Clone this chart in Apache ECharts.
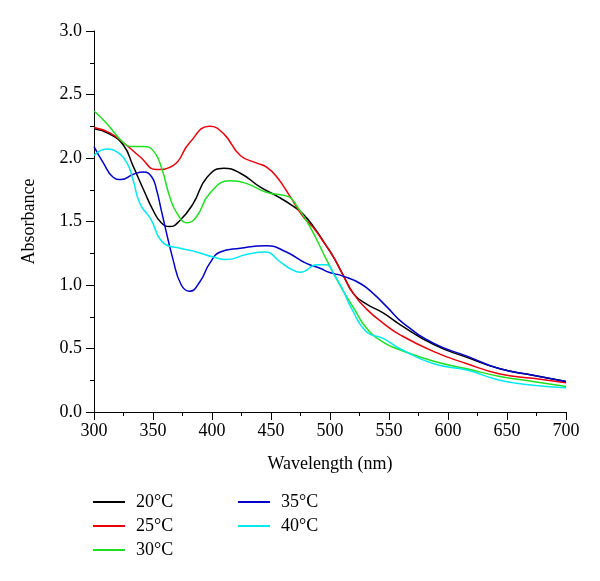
<!DOCTYPE html>
<html>
<head>
<meta charset="utf-8">
<script src="https://cdn.jsdelivr.net/npm/echarts@6/dist/echarts.min.js"></script>
<style>
  html, body { margin: 0; padding: 0; background: #fff; }
  #main { width: 600px; height: 581px; }
</style>
</head>
<body>
<div id="main"></div>
<script>
(function() {
    // 20°C
    var wl20 = [300, 313, 325, 333, 342, 350, 357, 364, 373, 384, 396, 410, 424, 441, 455, 469, 477, 486, 496, 503, 511, 520, 531, 545, 559, 588, 616, 644, 672, 700];
    var abs20 = [2.23, 2.19, 2.10, 1.94, 1.75, 1.59, 1.49, 1.46, 1.51, 1.64, 1.85, 1.92, 1.88, 1.77, 1.70, 1.62, 1.56, 1.46, 1.32, 1.22, 1.08, 0.93, 0.85, 0.78, 0.69, 0.53, 0.43, 0.34, 0.29, 0.24];
    // 25°C
    var wl25 = [300, 313, 325, 339, 353, 367, 381, 398, 410, 424, 438, 446, 455, 466, 477, 486, 496, 503, 511, 520, 531, 545, 559, 588, 616, 644, 672, 700];
    var abs25 = [2.24, 2.20, 2.12, 2.01, 1.91, 1.94, 2.12, 2.25, 2.19, 2.02, 1.96, 1.93, 1.85, 1.70, 1.54, 1.45, 1.32, 1.22, 1.08, 0.93, 0.81, 0.70, 0.61, 0.475, 0.38, 0.30, 0.265, 0.23];
    // 30°C
    var wl30 = [300, 311, 325, 333, 342, 350, 357, 364, 370, 379, 387, 398, 415, 429, 446, 458, 466, 472, 483, 497, 509, 520, 531, 545, 559, 588, 616, 644, 672, 700];
    var abs30 = [2.37, 2.27, 2.12, 2.09, 2.09, 2.06, 1.93, 1.70, 1.57, 1.49, 1.54, 1.72, 1.82, 1.80, 1.73, 1.71, 1.69, 1.62, 1.46, 1.20, 0.99, 0.82, 0.66, 0.55, 0.49, 0.40, 0.34, 0.28, 0.24, 0.20];
    // 35°C
    var wl35 = [300, 308, 316, 323, 333, 342, 349, 353, 357, 367, 374, 381, 390, 398, 407, 424, 446, 463, 480, 492, 499, 511, 526, 537, 549, 562, 588, 616, 644, 672, 700];
    var abs35 = [2.09, 1.96, 1.85, 1.83, 1.87, 1.89, 1.85, 1.75, 1.59, 1.20, 1.00, 0.95, 1.03, 1.17, 1.26, 1.29, 1.31, 1.26, 1.17, 1.13, 1.10, 1.07, 1.01, 0.93, 0.82, 0.70, 0.54, 0.44, 0.34, 0.29, 0.24];
    // 40°C
    var wl40 = [300, 311, 319, 328, 333, 339, 348, 359, 373, 387, 401, 412, 429, 445, 458, 466, 475, 489, 497, 503, 511, 518, 531, 545, 559, 588, 616, 644, 672, 700];
    var abs40 = [2.02, 2.07, 2.05, 1.96, 1.83, 1.64, 1.52, 1.33, 1.29, 1.26, 1.22, 1.20, 1.24, 1.26, 1.18, 1.13, 1.10, 1.16, 1.16, 1.09, 0.96, 0.82, 0.63, 0.58, 0.50, 0.38, 0.33, 0.25, 0.21, 0.19];

    var names = ['20°C', '25°C', '30°C', '35°C', '40°C'];
    var colors = ['#000000', '#e8000b', '#1ee01e', '#0000c8', '#00e8f0'];
    var wls = [wl20, wl25, wl30, wl35, wl40];
    var absv = [abs20, abs25, abs30, abs35, abs40];

    var font = 'Liberation Serif';

    function pairs(xs, ys) {
        return xs.map(function(x, i) { return [x, ys[i]]; });
    }

    var series = names.map(function(n, i) {
        return {
            name: n,
            type: 'line',
            smooth: 0.5,
            symbol: 'none',
            lineStyle: { color: colors[i], width: 1.5 },
            itemStyle: { color: colors[i] },
            data: pairs(wls[i], absv[i])
        };
    });

    var legendBase = {
        orient: 'vertical',
        icon: 'rect',
        itemWidth: 32,
        itemHeight: 2,
        itemGap: 6,
        textStyle: { fontFamily: font, fontSize: 18, color: '#000', padding: [0, 0, 0, 6] }
    };

    var chart = echarts.init(document.getElementById('main'));
    chart.setOption({
        backgroundColor: '#fff',
        animation: false,
        grid: { left: 94, right: 34, top: 31, bottom: 169 },
        legend: [
            Object.assign({}, legendBase, { left: 88, top: 488, data: names.slice(0, 3) }),
            Object.assign({}, legendBase, { left: 233, top: 488, data: names.slice(3) })
        ],
        xAxis: {
            type: 'value',
            min: 300,
            max: 700,
            interval: 50,
            name: 'Wavelength (nm)',
            nameLocation: 'middle',
            nameGap: 43,
            nameTextStyle: { fontFamily: font, fontSize: 18, color: '#000' },
            axisLine: { lineStyle: { color: '#000', width: 1 } },
            axisTick: { inside: false, length: 8, lineStyle: { color: '#000' } },
            minorTick: { show: true, splitNumber: 2, length: 4, lineStyle: { color: '#000' } },
            axisLabel: { fontFamily: font, fontSize: 18, color: '#000', margin: 10 },
            splitLine: { show: false }
        },
        yAxis: {
            type: 'value',
            min: 0,
            max: 3,
            interval: 0.5,
            name: 'Absorbance',
            nameLocation: 'middle',
            nameGap: 56,
            nameTextStyle: { fontFamily: font, fontSize: 18, color: '#000' },
            axisLine: { show: true, lineStyle: { color: '#000', width: 1 } },
            axisTick: { show: true, inside: false, length: 8, lineStyle: { color: '#000' } },
            minorTick: { show: true, splitNumber: 2, length: 4, lineStyle: { color: '#000' } },
            axisLabel: {
                fontFamily: font, fontSize: 18, color: '#000', margin: 12,
                formatter: function(v) { return v.toFixed(1); }
            },
            splitLine: { show: false }
        },
        series: series
    });
})();
</script>
</body>
</html>
